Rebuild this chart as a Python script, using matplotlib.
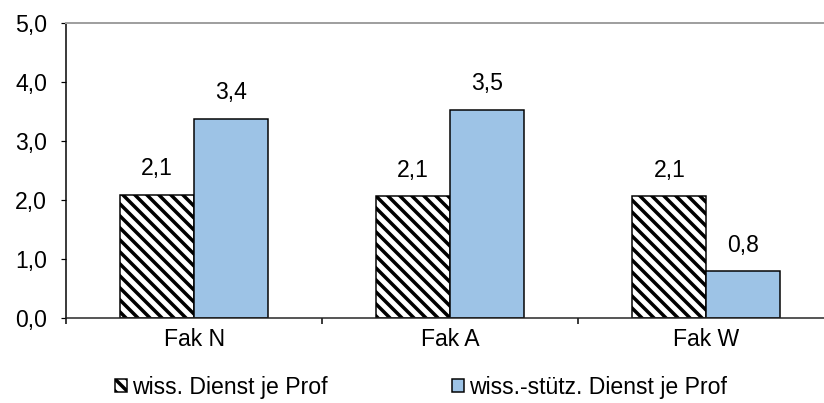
import matplotlib
matplotlib.use("Agg")
import matplotlib.pyplot as plt
import numpy as np
from matplotlib.patches import Patch
from matplotlib.ticker import FuncFormatter, FixedLocator

# values
categories = ["Fak N", "Fak A", "Fak W"]
wiss_dienst = [2.08, 2.06, 2.06]
wiss_stuetz = [3.37, 3.53, 0.79]
series_labels = ["wiss. Dienst je Prof", "wiss.-stütz. Dienst je Prof"]

plt.rcParams["font.family"] = ["Liberation Sans", "DejaVu Sans"]
plt.rcParams["hatch.linewidth"] = 3.5
plt.rcParams["hatch.color"] = "black"

FS = 23
blue = "#9dc3e6"

fig = plt.figure(figsize=(11.45, 5.6), dpi=72)
# axes runs a little past the right edge, like the source export
ax = fig.add_axes([66 / 824, 85 / 403, 768 / 824, 295 / 403])

x = np.arange(len(categories))
w = 0.289
ax.bar(x - w / 2, wiss_dienst, w, facecolor="white", edgecolor="black",
       linewidth=1.5, hatch="\\\\", label=series_labels[0])
ax.bar(x + w / 2, wiss_stuetz, w, facecolor=blue, edgecolor="black",
       linewidth=1.5, label=series_labels[1])

for xi, v in zip(x - w / 2, wiss_dienst):
    ax.annotate(f"{v:.1f}".replace(".", ","), (xi, v), xytext=(0, 20),
                textcoords="offset points", ha="center", va="baseline",
                fontsize=FS)
for xi, v in zip(x + w / 2, wiss_stuetz):
    ax.annotate(f"{v:.1f}".replace(".", ","), (xi, v), xytext=(0, 20),
                textcoords="offset points", ha="center", va="baseline",
                fontsize=FS)

ax.set_xlim(-0.5, 2.5)
ax.set_ylim(0, 5)
ax.set_yticks(np.arange(0, 5.01, 1))
ax.yaxis.set_major_formatter(FuncFormatter(lambda v, p: f"{v:.1f}".replace(".", ",")))
ax.tick_params(axis="y", direction="out", length=5, width=1.2, pad=14,
               labelsize=FS, colors="black")

ax.set_xticks(x)
ax.set_xticklabels(categories)
ax.xaxis.set_minor_locator(FixedLocator([-0.5, 0.5, 1.5, 2.5]))
ax.tick_params(axis="x", which="major", length=0, pad=10, labelsize=FS)
ax.tick_params(axis="x", which="minor", direction="out", length=6, width=1.5)

ax.spines["right"].set_visible(False)
ax.spines["top"].set_color("#a0a0a0")
ax.spines["top"].set_linewidth(2)
ax.spines["left"].set_linewidth(1.5)
ax.spines["bottom"].set_linewidth(1.5)
ax.spines["bottom"].set_color("#222222")

handles = [Patch(facecolor="white", edgecolor="black", hatch="\\\\", linewidth=1.5),
           Patch(facecolor=blue, edgecolor="black", linewidth=1.5)]
fig.legend(handles, series_labels, loc="center left",
           bbox_to_anchor=(115 / 824, 1 - 387 / 403), ncol=2, frameon=False,
           fontsize=FS, handlelength=0.5, handleheight=0.5,
           handletextpad=0.25, columnspacing=5.4, borderpad=0, borderaxespad=0)

fig.savefig("out.png", dpi=72)
